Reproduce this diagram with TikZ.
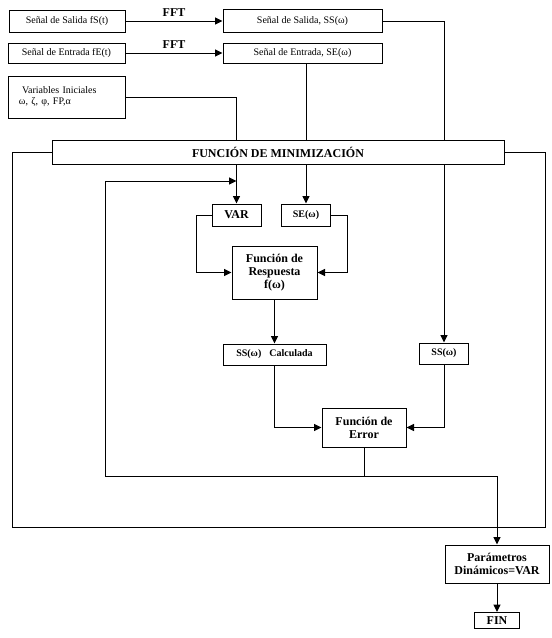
\documentclass[tikz,border=0pt]{standalone}
\usepackage{fontspec}
\setmainfont{Liberation Serif}
\usetikzlibrary{arrows.meta}
\newcommand{\letrachica}{\fontsize{10}{11}\selectfont}
\newcommand{\letranegra}{\fontsize{12}{13}\selectfont\bfseries}
\newcommand{\letramedia}{\fontsize{10}{11}\selectfont\bfseries}
\tikzset{
  caja/.style={draw, line width=1pt, fill=white, inner sep=1pt, align=center},
  flecha/.style={-{Triangle[length=7.5pt,width=7pt]}},
  linea/.style={line width=1pt}
}
\begin{document}
\begin{tikzpicture}[x=1pt,y=-1pt,linea]
        \useasboundingbox (0,0) rectangle (552,638);

        % Paso 1: Señales en el tiempo y variables iniciales
        \node[caja, minimum width=116pt, minimum height=22pt, font=\letrachica] (salT) at (67,21) {Señal de Salida fS(t)};
        \node[caja, minimum width=117pt, minimum height=20pt, font=\letrachica] (entT) at (66.5,53) {Señal de Entrada fE(t)};
        \node[caja, align=left, text width=95pt, inner xsep=11pt, minimum height=42pt, font=\letrachica] (varIni) at (66.5,97)
             {\hspace{3pt}Variables Iniciales\\ ω, ζ, φ, FP,α\\[-2pt]};

        % Paso 2: Señales en frecuencia (FFT)
        \node[caja, minimum width=159pt, minimum height=23pt, font=\letrachica] (salW) at (302.5,21) {Señal de Salida, SS(ω)};
        \node[caja, minimum width=159pt, minimum height=20pt, font=\letrachica] (entW) at (302.5,53) {Señal de Entrada, SE(ω)};
        \draw[flecha] (salT.east) -- node[above=1pt, font=\letranegra] {FFT} (salW.west);
        \draw[flecha] (entT.east) -- node[above=1pt, font=\letranegra] {FFT} (entW.west);

        % Paso 3: Función de minimización y su lazo
        \node[caja, minimum width=452pt, minimum height=24pt, font=\letranegra] (minim) at (278,152) {FUNCIÓN DE MINIMIZACIÓN};
        \coordinate (lazoNO) at (12,152);
        \coordinate (lazoSE) at (545,527);
        \draw (minim.west) -- (minim.west -| lazoNO) |- (lazoSE) |- (minim.east);

        % Paso 4: Bloques interiores
        \node[caja, minimum width=49pt, minimum height=22pt, font=\letranegra] (var) at (236.5,215) {VAR};
        \node[caja, minimum width=49pt, minimum height=22pt, font=\letramedia] (seW) at (306,215) {SE(ω)};
        \node[caja, minimum width=85pt, minimum height=53pt, font=\letranegra] (resp) at (274.5,272.5) {Función de\\ Respuesta\\ f(ω)};
        \node[caja, minimum width=103pt, minimum height=21pt, font=\letramedia] (ssCalc) at (274.5,354.5) {SS(ω)\hspace{8pt}Calculada};
        \node[caja, minimum width=49pt, minimum height=21pt, font=\letramedia] (ssW) at (444,353.5) {SS(ω)};
        \node[caja, minimum width=84pt, minimum height=39pt, font=\letranegra] (error) at (364,427.5) {Función de\\ Error};

        % Paso 5: Entradas a la minimización
        \draw (varIni.east) -| (minim.north -| var.north);
        \draw (entW.south -| seW.north) -- (minim.north -| seW.north);
        \draw (salW.east) -| (minim.north -| ssW.north);
        \draw[flecha] (minim.south -| var.north) -- (var.north);
        \draw[flecha] (minim.south -| seW.north) -- (seW.north);
        \draw[flecha] (minim.south -| ssW.north) -- (ssW.north);

        % Paso 6: Conexiones de la función de respuesta y del error
        \draw[flecha] (var.west) -- ++(-15,0) |- (resp.west);
        \draw[flecha] (seW.east) -- ++(16,0) |- (resp.east);
        \draw[flecha] (resp.south) -- (ssCalc.north);
        \draw[flecha] (ssCalc.south) |- (error.west);
        \draw[flecha] (ssW.south) |- (error.east);

        % Paso 7: Retorno y salida
        \coordinate (retorno) at (105,181);
        \draw (error.south) -- ++(0,29) coordinate (nudo);
        \draw[flecha] (nudo) -| (retorno) -- (retorno -| var.north);

        \node[caja, minimum width=104pt, minimum height=38pt, font=\letranegra] (param) at (497,564) {Parámetros\\ Dinámicos=VAR};
        \node[caja, minimum width=45pt, minimum height=16pt, font=\letranegra] (fin) at (497,620.5) {FIN};
        \draw[flecha] (nudo) -| (param.north);
        \draw[flecha] (param.south) -- (fin.north);
    \end{tikzpicture}
\end{document}
